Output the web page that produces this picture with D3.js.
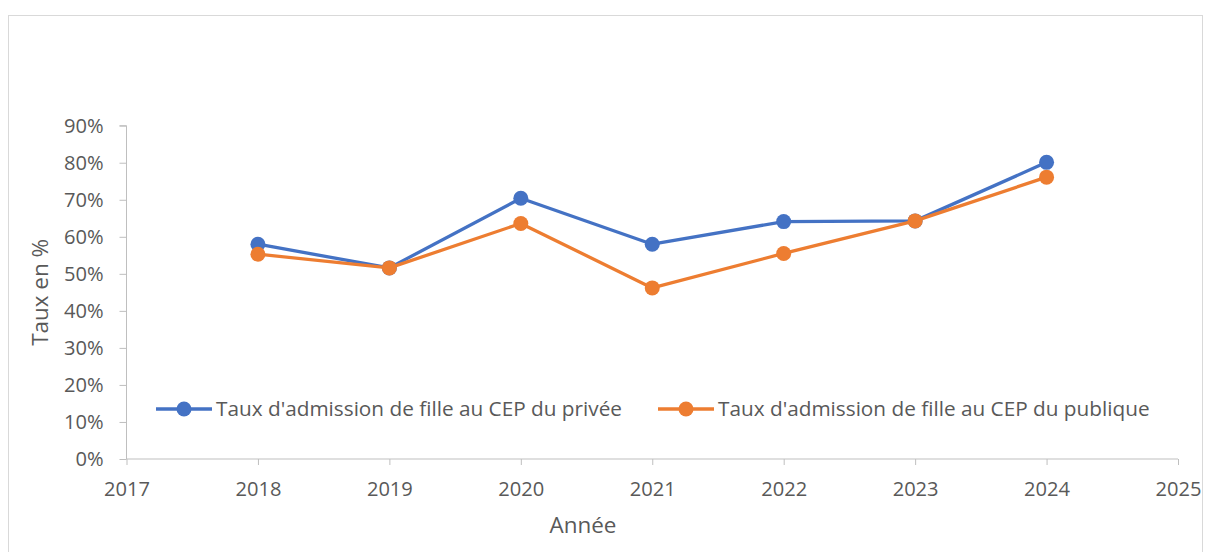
<!DOCTYPE html>
<html><head><meta charset="utf-8">
<script src="https://cdn.jsdelivr.net/npm/d3@7"></script>
<style>body{margin:0;background:#fff}svg{display:block}</style>
</head><body>
<svg id="c" width="1205" height="552"></svg>
<script>
const years = [2018, 2019, 2020, 2021, 2022, 2023, 2024];
const privee = [58.0, 51.6, 70.4, 58.0, 64.1, 64.3, 80.1];
const publique = [55.3, 51.6, 63.6, 46.2, 55.5, 64.3, 76.1];
const xTicks = [2017, 2018, 2019, 2020, 2021, 2022, 2023, 2024, 2025];
const yTicks = [0, 10, 20, 30, 40, 50, 60, 70, 80, 90];
const seriesNames = ["Taux d'admission de fille au CEP du privée", "Taux d'admission de fille au CEP du publique"];
const colors = ["#4472C4", "#ED7D31"];

const svg = d3.select("#c");
const font = "'Open Sans', sans-serif";
const txt = "#595959", axisCol = "#BFBFBF";

// size a text so that it spans the target width
function fitSize(str, target) {
  const t = svg.append("text").style("font-family", font).style("font-size", "20px").text(str);
  const w = t.node().getComputedTextLength();
  t.remove();
  return 20 * target / w;
}
const tickSize = fitSize("2017", 46);
const legSize = fitSize(seriesNames[0], 406);
const titleSize = fitSize("Année", 67);

svg.append("rect").attr("x", 8.5).attr("y", 15.5).attr("width", 1194).attr("height", 560)
  .attr("fill", "#fff").attr("stroke", "#D9D9D9");

const x = d3.scaleLinear().domain([2017, 2025]).range([126.5, 1178]);
const y = d3.scaleLinear().domain([0, 90]).range([459, 125.7]);

// y axis
const ya = svg.append("g").attr("transform", `translate(${x(2017)},0)`)
  .call(d3.axisLeft(y).tickValues(yTicks).tickSize(7).tickPadding(16).tickFormat(d => d + "%"));
ya.select(".domain").attr("stroke", axisCol).attr("d", `M-7,${y(90)}H0V${y(0)}`);
ya.selectAll(".tick line").attr("stroke", axisCol);
ya.selectAll(".tick text").attr("fill", txt).style("font-family", font).style("font-size", tickSize + "px");

// x axis
const xa = svg.append("g").attr("transform", `translate(0,${y(0)})`)
  .call(d3.axisBottom(x).tickValues(xTicks).tickSize(6).tickPadding(17).tickFormat(d3.format("d")));
xa.select(".domain").attr("stroke", axisCol).attr("d", `M${x(2017)},0H${x(2025)}`);
xa.selectAll(".tick line").attr("stroke", axisCol);
xa.selectAll(".tick text").attr("fill", txt).style("font-family", font).style("font-size", tickSize + "px");

// titles
svg.append("text").attr("x", 583).attr("y", 533).attr("text-anchor", "middle")
  .attr("fill", txt).style("font-family", font).style("font-size", titleSize + "px").text("Année");
svg.append("text").attr("transform", `translate(48,${(y(0)+y(90))/2}) rotate(-90)`)
  .attr("text-anchor", "middle").attr("fill", txt).style("font-family", font).style("font-size", titleSize + "px").text("Taux en %");

const line = d3.line().x((d, i) => x(years[i])).y(d => y(d));
[privee, publique].forEach((s, k) => {
  svg.append("path").datum(s).attr("d", line).attr("fill", "none")
    .attr("stroke", colors[k]).attr("stroke-width", 3.3).attr("stroke-linejoin", "round");
  svg.selectAll(null).data(s).enter().append("circle")
    .attr("cx", (d, i) => x(years[i])).attr("cy", d => y(d)).attr("r", 7.5).attr("fill", colors[k]);
});

// legend
const legX = [156, 658];
seriesNames.forEach((n, k) => {
  const g = svg.append("g").attr("transform", `translate(${legX[k]},409)`);
  g.append("line").attr("x1", 0).attr("x2", 56).attr("stroke", colors[k]).attr("stroke-width", 3.3);
  g.append("circle").attr("cx", 28).attr("r", 7.5).attr("fill", colors[k]);
  g.append("text").attr("x", 60).attr("y", 6.5).attr("fill", txt)
    .style("font-family", font).style("font-size", legSize + "px").text(n);
});
</script>
</body></html>
